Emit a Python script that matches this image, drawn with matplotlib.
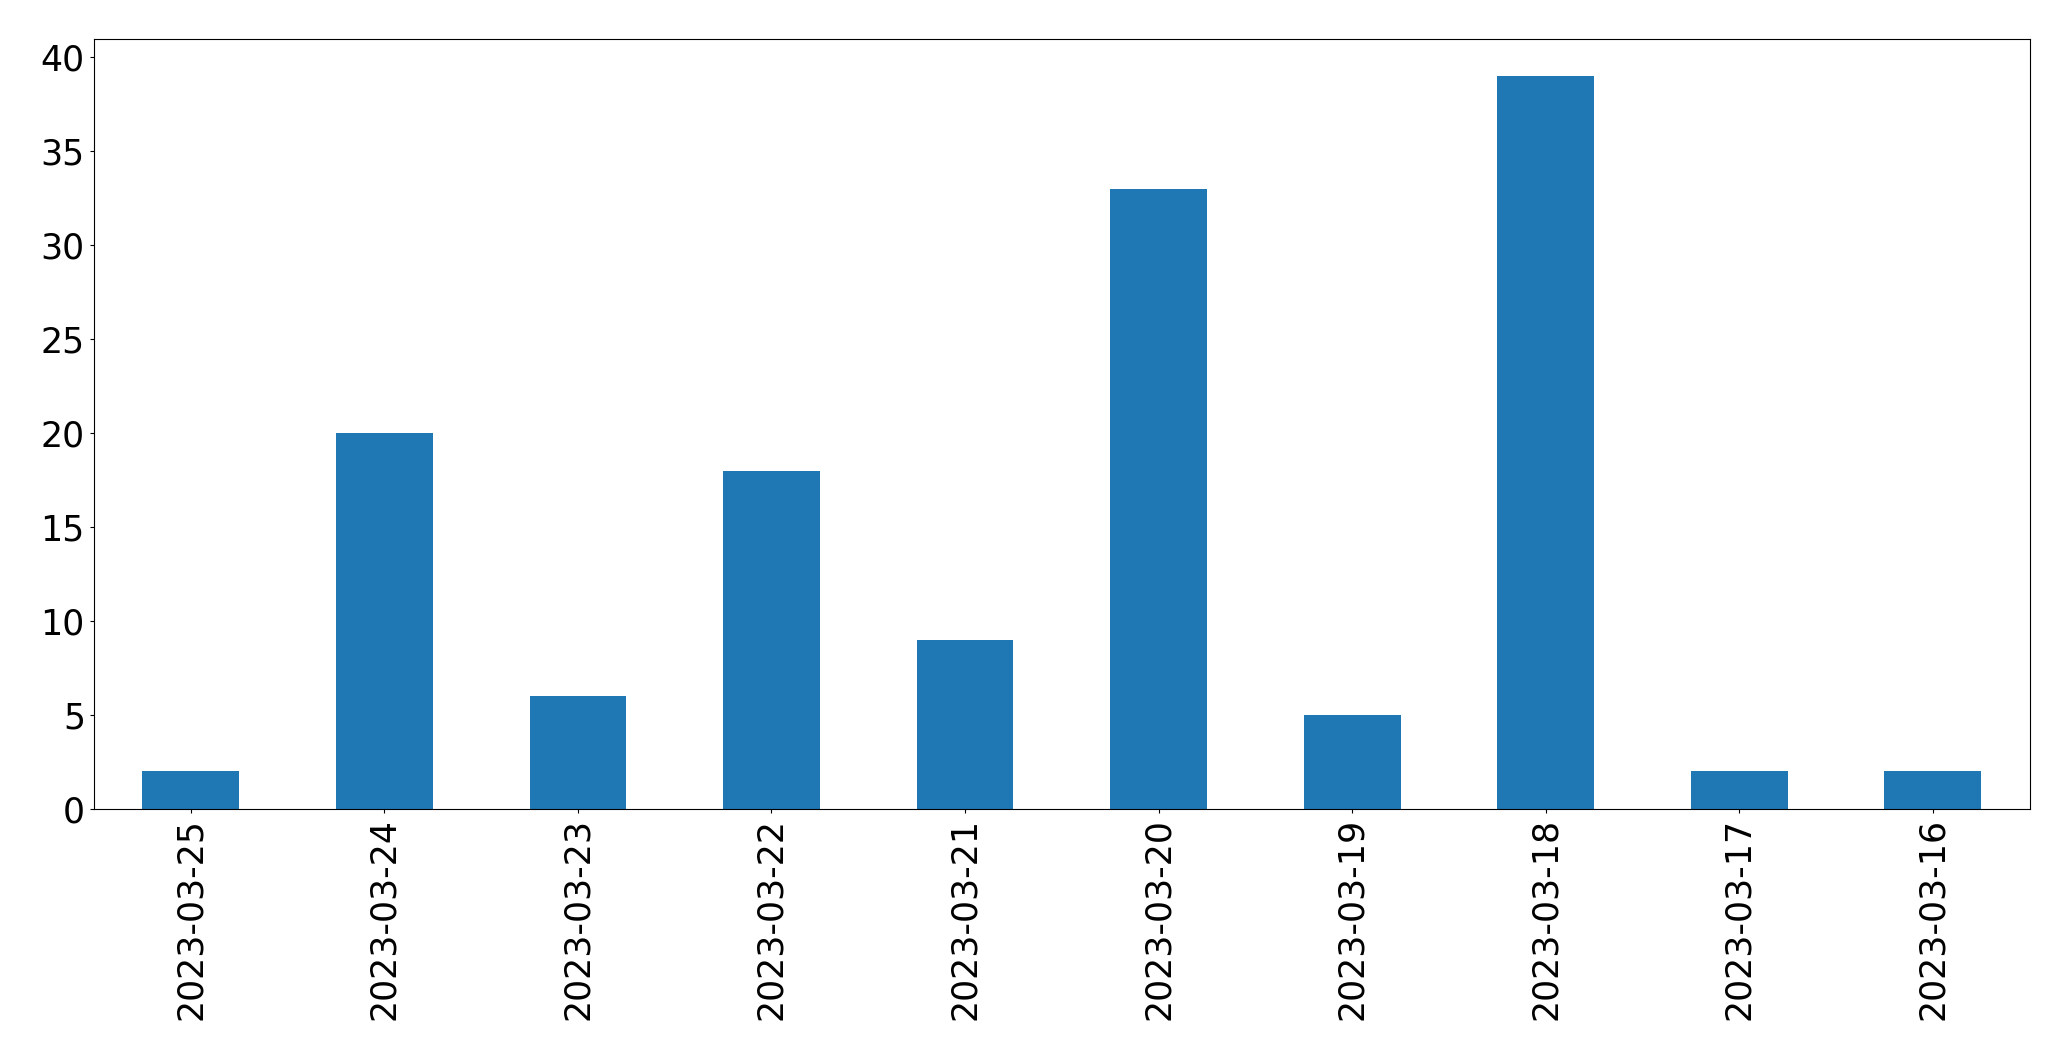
import matplotlib
matplotlib.use("Agg")
import matplotlib.pyplot as plt
import pandas as pd

dates = ["2023-03-25", "2023-03-24", "2023-03-23", "2023-03-22", "2023-03-21",
         "2023-03-20", "2023-03-19", "2023-03-18", "2023-03-17", "2023-03-16"]
counts = [2, 20, 6, 18, 9, 33, 5, 39, 2, 2]

fig = plt.figure(figsize=(20.71, 10.61), dpi=100)
ax = fig.add_axes([0.0454, 0.2375, 0.9346, 0.7257])
s = pd.Series(counts, index=dates)
s.plot(kind="bar", ax=ax, color="#1f77b4", width=0.5, linewidth=0)
ax.tick_params(axis="both", labelsize=25, length=4.3 * 72 / 100)
ax.set_yticks(range(0, 41, 5))
fig.savefig("out.png", dpi=100)
